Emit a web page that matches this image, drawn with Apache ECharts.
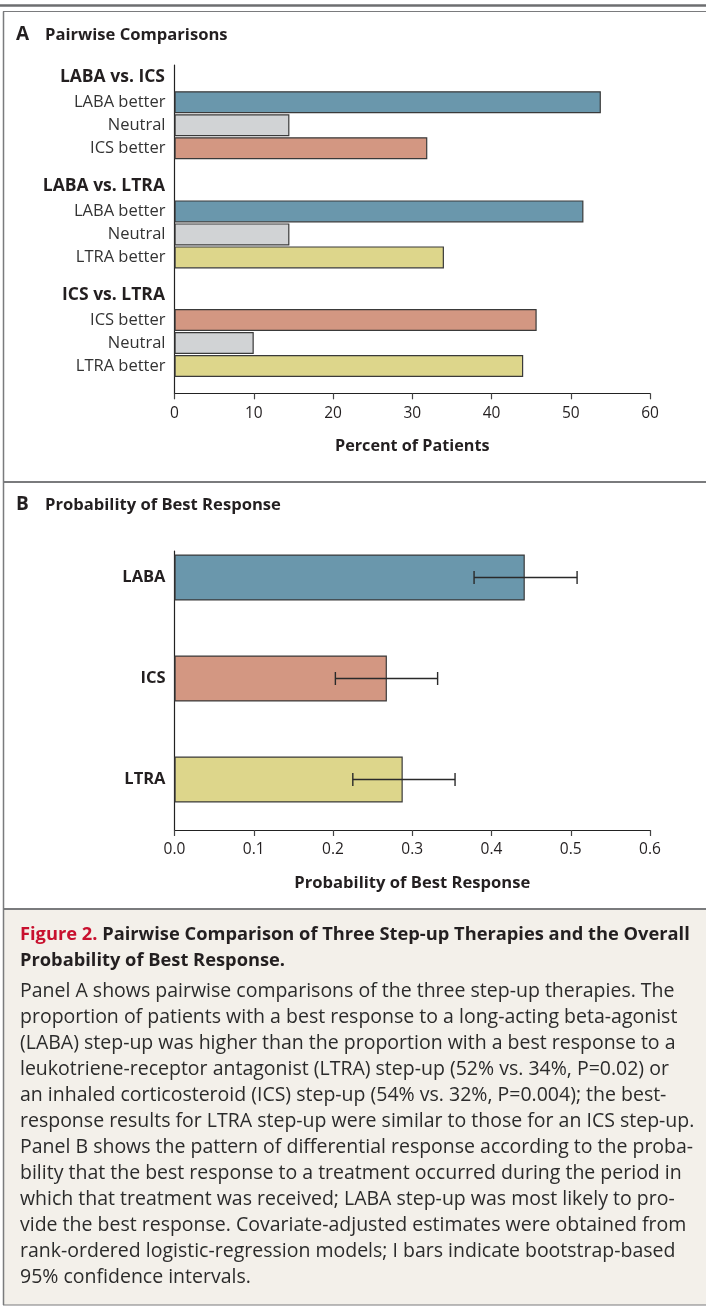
<!DOCTYPE html>
<html>
<head>
<meta charset="utf-8">
<script src="https://cdn.jsdelivr.net/npm/echarts@6/dist/echarts.min.js"></script>
<style>
html,body{margin:0;padding:0;background:#fff;}
#chart{width:706px;height:1312px;}
</style>
</head>
<body>
<div id="chart"></div>
<script>
// ---------- DATA ----------
const groupNames = ['LABA vs. ICS', 'LABA vs. LTRA', 'ICS vs. LTRA'];
const groupCategories = [
  ['LABA better', 'Neutral', 'ICS better'],
  ['LABA better', 'Neutral', 'LTRA better'],
  ['ICS better', 'Neutral', 'LTRA better']
];
const groupPercents = [
  [53.8, 14.5, 31.9],
  [51.6, 14.5, 34.0],
  [45.7, 10.0, 44.0]
];
const percentTicks = [0, 60, 10]; // min, max, interval

const therapies = ['LABA', 'ICS', 'LTRA'];
const probBest = [0.442, 0.268, 0.288];
const ciLow = [0.378, 0.203, 0.225];
const ciHigh = [0.508, 0.332, 0.354];
const probTicks = [0, 0.6, 0.1];

const captionTitle1 = ['Figure 2.', ' Pairwise Comparison of Three Step-up Therapies and the Overall'];
const captionTitle2 = 'Probability of Best Response.';
const captionBody = [
  'Panel A shows pairwise comparisons of the three step-up therapies. The',
  'proportion of patients with a best response to a long-acting beta-agonist',
  '(LABA) step-up was higher than the proportion with a best response to a',
  'leukotriene-receptor antagonist (LTRA) step-up (52% vs. 34%, P=0.02) or',
  'an inhaled corticosteroid (ICS) step-up (54% vs. 32%, P=0.004); the best-',
  'response results for LTRA step-up were similar to those for an ICS step-up.',
  'Panel B shows the pattern of differential response according to the proba-',
  'bility that the best response to a treatment occurred during the period in',
  'which that treatment was received; LABA step-up was most likely to pro-',
  'vide the best response. Covariate-adjusted estimates were obtained from',
  'rank-ordered logistic-regression models; I bars indicate bootstrap-based',
  '95% confidence intervals.'
];

// ---------- STYLE ----------
const FONT = '"Open Sans", "Noto Sans", sans-serif';
const TXT = '#231f20';
const colorFor = {
  'LABA': '#6a97ac',
  'ICS': '#d39782',
  'LTRA': '#ddd68b',
  'Neutral': '#d1d3d5'
};
function catColor(name) {
  if (name === 'Neutral') return colorFor.Neutral;
  return colorFor[name.split(' ')[0]];
}
const GL = 174.5, GR = 706 - 650;

const chart = echarts.init(document.getElementById('chart'), null, {renderer: 'canvas'});

const grids = [], xAxes = [], yAxes = [], series = [];

// Panel A main grid (visible x-axis and y-axis line)
grids.push({left: GL, right: GR, top: 65, height: 393.3 - 65});
xAxes.push({
  type: 'value', gridIndex: 0, min: percentTicks[0], max: percentTicks[1], interval: percentTicks[2],
  splitLine: {show: false},
  axisLine: {show: true, lineStyle: {color: '#222', width: 1.2}},
  axisTick: {show: true, length: 6, lineStyle: {color: '#444', width: 1.2}},
  axisLabel: {fontFamily: FONT, fontSize: 15.5, color: TXT, margin: 12},
  name: 'Percent of Patients', nameLocation: 'middle', nameGap: 53,
  nameTextStyle: {fontFamily: FONT, fontSize: 16.2, fontWeight: 'bold', color: TXT, verticalAlign: 'middle'}
});
yAxes.push({
  type: 'category', gridIndex: 0, data: [''],
  axisLine: {show: true, lineStyle: {color: '#222', width: 1.2}},
  axisTick: {show: false}, axisLabel: {show: false}
});

// Panel A sub-grids for each pairwise group
const subTops = [90.7, 199.9, 308.5];
groupNames.forEach((g, i) => {
  const gi = grids.length;
  grids.push({left: GL, right: GR, top: subTops[i], height: 69});
  xAxes.push({type: 'value', gridIndex: gi, min: percentTicks[0], max: percentTicks[1], show: false, splitLine: {show: false}});
  yAxes.push({
    type: 'category', gridIndex: gi, data: groupCategories[i], inverse: true,
    axisLine: {show: false}, axisTick: {show: false},
    axisLabel: {fontFamily: FONT, fontSize: 16.5, color: '#333', margin: 9}
  });
  series.push({
    type: 'bar', xAxisIndex: gi, yAxisIndex: gi, barWidth: 22,
    data: groupPercents[i].map((v, k) => ({
      value: v,
      itemStyle: {color: catColor(groupCategories[i][k]), borderColor: '#3a3a3a', borderWidth: 1.2}
    })),
    silent: true
  });
});

// Panel B: bar grid (hidden axes) + axis grid (visible axes)
const gB = grids.length;
grids.push({left: GL, right: GR, top: 830 - 303, height: 303});
xAxes.push({type: 'value', gridIndex: gB, min: probTicks[0], max: probTicks[1], show: false, splitLine: {show: false}});
yAxes.push({
  type: 'category', gridIndex: gB, data: therapies, inverse: true,
  axisLine: {show: false}, axisTick: {show: false},
  axisLabel: {fontFamily: FONT, fontSize: 16.5, fontWeight: 'bold', color: TXT, margin: 9}
});
series.push({
  type: 'bar', xAxisIndex: gB, yAxisIndex: gB, barWidth: 46,
  data: probBest.map((v, k) => ({
    value: v,
    itemStyle: {color: colorFor[therapies[k]], borderColor: '#3a3a3a', borderWidth: 1.2}
  })),
  silent: true
});
series.push({
  type: 'custom', xAxisIndex: gB, yAxisIndex: gB,
  data: therapies.map((t, k) => [ciLow[k], ciHigh[k], k]),
  encode: {x: [0, 1], y: 2},
  renderItem: function (params, api) {
    const lo = api.coord([api.value(0), api.value(2)]);
    const hi = api.coord([api.value(1), api.value(2)]);
    const h = 6.5;
    const st = {stroke: '#2a2a2a', lineWidth: 1.4};
    return {
      type: 'group',
      children: [
        {type: 'line', shape: {x1: lo[0], y1: lo[1], x2: hi[0], y2: hi[1]}, style: st},
        {type: 'line', shape: {x1: lo[0], y1: lo[1] - h, x2: lo[0], y2: lo[1] + h}, style: st},
        {type: 'line', shape: {x1: hi[0], y1: hi[1] - h, x2: hi[0], y2: hi[1] + h}, style: st}
      ]
    };
  },
  silent: true, z: 5
});

const gB2 = grids.length;
grids.push({left: GL, right: GR, top: 551, height: 830 - 551});
xAxes.push({
  type: 'value', gridIndex: gB2, min: probTicks[0], max: probTicks[1], interval: probTicks[2],
  splitLine: {show: false},
  axisLine: {show: true, lineStyle: {color: '#222', width: 1.2}},
  axisTick: {show: true, length: 6, lineStyle: {color: '#444', width: 1.2}},
  axisLabel: {fontFamily: FONT, fontSize: 15.5, color: TXT, margin: 12, formatter: v => v.toFixed(1)},
  name: 'Probability of Best Response', nameLocation: 'middle', nameGap: 53,
  nameTextStyle: {fontFamily: FONT, fontSize: 16.6, fontWeight: 'bold', color: TXT, verticalAlign: 'middle'}
});
yAxes.push({
  type: 'category', gridIndex: gB2, data: [''],
  axisLine: {show: true, lineStyle: {color: '#222', width: 1.2}},
  axisTick: {show: false}, axisLabel: {show: false}
});

// ---------- GRAPHIC (frames, titles, caption) ----------
const graphic = [];
graphic.push({type: 'rect', shape: {x: 3, y: 909, width: 706, height: 1305 - 909}, style: {fill: '#f3f0ea'}, z: -10});
graphic.push({type: 'line', shape: {x1: 0, y1: 5.5, x2: 706, y2: 5.5}, style: {stroke: '#6d6e70', lineWidth: 2.5}});
[11.5, 482, 909, 1305].forEach(y => {
  graphic.push({type: 'line', shape: {x1: 3, y1: y, x2: 706, y2: y}, style: {stroke: '#7a7b7d', lineWidth: y === 11.5 || y === 1305 ? 1.2 : 2}});
});
graphic.push({type: 'line', shape: {x1: 3.5, y1: 11.5, x2: 3.5, y2: 1305}, style: {stroke: '#7a7b7d', lineWidth: 1.5}});

function ptitle(letter, text, y) {
  graphic.push({type: 'text', x: 16, y: y, style: {text: letter, font: 'bold 19px ' + FONT, fill: TXT, verticalAlign: 'middle'}});
  graphic.push({type: 'text', x: 45, y: y, style: {text: text, font: 'bold 16.6px ' + FONT, fill: TXT, verticalAlign: 'middle'}});
}
ptitle('A', 'Pairwise Comparisons', 35);
ptitle('B', 'Probability of Best Response', 505);

const headerY = [76.7, 186, 295];
groupNames.forEach((g, i) => {
  graphic.push({type: 'text', x: 165, y: headerY[i], style: {text: g, font: 'bold 17.5px ' + FONT, fill: TXT, align: 'right', verticalAlign: 'middle'}});
});

graphic.push({
  type: 'text', x: 20, y: 935,
  style: {
    text: '{r|' + captionTitle1[0] + '}{b|' + captionTitle1[1] + '}',
    verticalAlign: 'middle',
    rich: {
      r: {fill: '#c8102e', font: 'bold 18.3px ' + FONT},
      b: {fill: TXT, font: 'bold 18.3px ' + FONT}
    }
  }
});
graphic.push({type: 'text', x: 20, y: 961, style: {text: captionTitle2, font: 'bold 18.3px ' + FONT, fill: TXT, verticalAlign: 'middle'}});
captionBody.forEach((line, i) => {
  graphic.push({type: 'text', x: 20, y: 991 + i * 26, style: {text: line, font: '19.5px ' + FONT, fill: '#2b2b2b', verticalAlign: 'middle'}});
});

chart.setOption({
  animation: false,
  backgroundColor: '#fff',
  grid: grids,
  xAxis: xAxes,
  yAxis: yAxes,
  series: series,
  graphic: graphic
});
</script>
</body>
</html>
